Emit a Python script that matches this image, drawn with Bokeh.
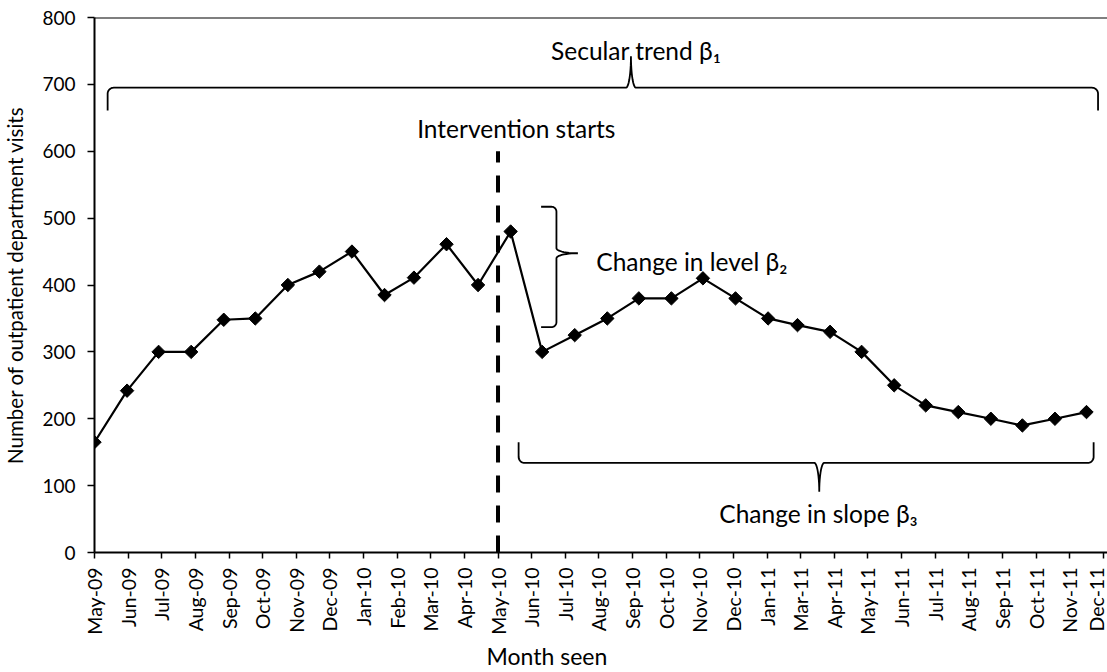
import numpy as np
import pandas as pd
from bokeh.plotting import figure
from bokeh.models import Range1d, FixedTicker, Span, Label, Title
from bokeh.embed import file_html
from bokeh.resources import INLINE

# ---------------- data ----------------
start_date = "2009-05-01"
months = pd.date_range(start_date, periods=32, freq="MS")
visits = [165, 242, 300, 300, 348, 350, 400, 420, 450, 385, 411, 461, 400, 480,
          300, 325, 350, 380, 380, 410, 380, 350, 340, 330, 300, 250, 220, 210,
          200, 190, 200, 210]
tick_labels = ["May-09", "Jun-09", "Jul-09", "Aug-09", "Sep-09", "Oct-09", "Nov-09",
               "Dec-09", "Jan-10", "Feb-10", "Mar-10", "Apr-10", "May-10", "Jun-10",
               "Jul-10", "Aug-10", "Sep-10", "Oct-10", "Nov-10", "Dec-10", "Jan-11",
               "Mar-11", "Apr-11", "May-11", "Jun-11", "Jul-11", "Aug-11", "Sep-11",
               "Oct-11", "Nov-11", "Dec-11"]
y_ticks = [0, 100, 200, 300, 400, 500, 600, 700, 800]
tick_step_days = 32
intervention_label = "May-10"
intervention_top = 600

FONT = "Lato"

# ---------------- derived ----------------
x_days = (months - pd.Timestamp(start_date)).days.values.astype(float)
tick_days = [i * tick_step_days for i in range(len(tick_labels))]
intervention_day = tick_days[tick_labels.index(intervention_label)]

X_END = 964.0
W, H = 1107, 672
LEFT, TOP, BOTTOM = 93, 17, 120
frame_w = W - LEFT
frame_h = H - TOP - BOTTOM
PX_D = frame_w / X_END
PX_V = frame_h / 800.0

p = figure(width=W, height=H, output_backend="svg", toolbar_location=None,
           x_range=Range1d(0, X_END), y_range=Range1d(0, 800),
           min_border_left=LEFT, min_border_right=0, min_border_top=TOP,
           min_border_bottom=BOTTOM, tools="")
p.outline_line_color = None
p.xgrid.visible = False
p.ygrid.visible = False
p.background_fill_color = "white"
p.border_fill_color = "white"

# axes
xa = p.xaxis[0]
xa.ticker = FixedTicker(ticks=tick_days)
xa.major_label_overrides = {d: lab for d, lab in zip(tick_days, tick_labels)}
xa.major_label_orientation = np.pi / 2
xa.major_label_text_font = FONT
xa.major_label_text_font_size = "19.5px"
xa.major_label_text_color = "black"
xa.major_label_standoff = 9
xa.axis_line_width = 2
xa.axis_line_color = "black"
xa.major_tick_line_color = "black"
xa.major_tick_line_width = 1.5
xa.major_tick_out = 6
xa.major_tick_in = 0
xa.minor_tick_line_color = None

ya = p.yaxis[0]
ya.ticker = FixedTicker(ticks=y_ticks)
ya.major_label_text_font = FONT
ya.major_label_text_font_size = "19px"
ya.major_label_text_color = "black"
ya.major_label_standoff = 12
ya.axis_line_width = 2
ya.axis_line_color = "black"
ya.major_tick_line_color = "black"
ya.major_tick_line_width = 1.5
ya.major_tick_out = 7
ya.major_tick_in = 0
ya.minor_tick_line_color = None
ya.axis_label = "Number of outpatient department visits"
ya.axis_label_text_font = FONT
ya.axis_label_text_font_size = "20.5px"
ya.axis_label_text_font_style = "normal"
ya.axis_label_text_color = "black"
ya.axis_label_standoff = 12

# top border line
p.add_layout(Span(location=800, dimension="width", line_color="black", line_width=2))

# x axis title
p.add_layout(Title(text="Month seen", text_font=FONT, text_font_size="23px",
                   text_font_style="normal", text_color="black",
                   align="left", offset=392, standoff=4), "below")

# intervention dashed line
p.line([intervention_day, intervention_day], [0, intervention_top],
       line_color="black", line_width=4, line_dash="17 13")

# series
p.line(x_days, visits, line_color="black", line_width=2.2)
p.scatter(x_days, visits, marker="square", angle=np.pi / 4, size=9.5,
          fill_color="black", line_color="black")


# ---------------- braces ----------------
def brace_px(a0, a1, am, e, b, t, r=6.0, c=5.0, n=12):
    s = 1.0 if b > e else -1.0
    th = np.linspace(0, np.pi / 2, n)
    A, P = [a0], [e]
    A += list(a0 + r - r * np.cos(th)); P += list(b - s * r + s * r * np.sin(th))
    A += list(am - c + c * np.sin(th)); P += list(t + (b - t) * np.cos(th))
    A += list(am + c - c * np.sin(th[::-1])); P += list(t + (b - t) * np.cos(th[::-1]))
    A += list(a1 - r + r * np.cos(th[::-1])); P += list(b - s * r + s * r * np.sin(th[::-1]))
    A.append(a1); P.append(e)
    return np.array(A), np.array(P)


def hbrace(x0, x1, xm, y_end, y_bar, y_tip, **kw):
    A, P = brace_px(x0 * PX_D, x1 * PX_D, xm * PX_D,
                    y_end * PX_V, y_bar * PX_V, y_tip * PX_V, **kw)
    p.line(A / PX_D, P / PX_V, line_color="black", line_width=1.8)


def vbrace(y0, y1, ym, x_end, x_bar, x_tip, **kw):
    A, P = brace_px(y0 * PX_V, y1 * PX_V, ym * PX_V,
                    x_end * PX_D, x_bar * PX_D, x_tip * PX_D, **kw)
    p.line(P / PX_D, A / PX_V, line_color="black", line_width=1.8)


hbrace(12.5, 955, 510.5, 661, 695, 742, r=6, c=5)
vbrace(337, 517, 447.5, 425, 439.6, 460, r=5, c=5)
hbrace(403.6, 950.8, 689.7, 165, 134, 91, r=6, c=5)

# ---------------- annotation texts ----------------
def note(x, y, txt, align="center"):
    p.add_layout(Label(x=x, y=y, text=txt, text_font=FONT, text_font_size="24.5px",
                       text_align=align, text_baseline="alphabetic",
                       text_color="black"))

note(515.5, 750, "Secular trend β₁")
note(401.4, 634, "Intervention starts")
note(477.5, 435, "Change in level β₂", align="left")
note(689.0, 58, "Change in slope β₃")

open("out.html", "w").write(file_html(p, INLINE))
